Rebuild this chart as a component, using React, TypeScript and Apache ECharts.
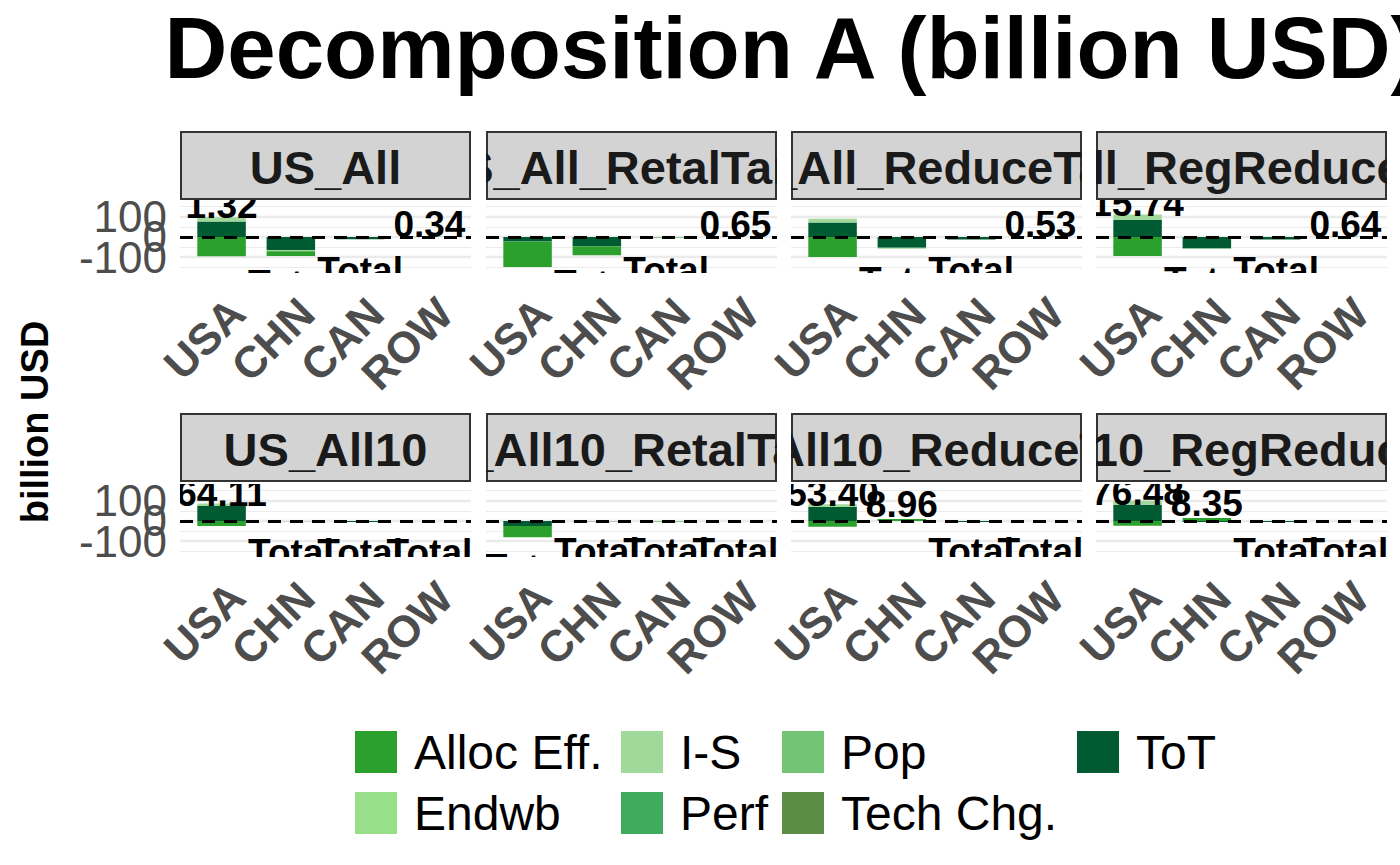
import React, { useEffect, useRef } from 'react';
import * as echarts from 'echarts';

const FONT = '"Liberation Sans", Arial, sans-serif';

const countries = ['USA', 'CHN', 'CAN', 'ROW'];
const facetNames = [
  'US_All',
  'US_All_RetalTariff',
  'US_All_ReduceTariff',
  'US_All_RegReduceTariff',
  'US_All10',
  'US_All10_RetalTariff',
  'US_All10_ReduceTariff',
  'US_All10_RegReduceTariff',
];

const seriesNames = ['Alloc Eff.', 'Endwb', 'I-S', 'Perf', 'Pop', 'Tech Chg.', 'ToT'];
const seriesColors = ['#2ca02c', '#98df8a', '#a1d99b', '#41ab5d', '#74c476', '#5b8c46', '#005a32'];

// values per facet, columns = USA, CHN, CAN, ROW
const allocEff = [
  [-95.7, -23, 0, 0],
  [-125, -44, -3, 0],
  [-99, 0, 0, 0],
  [-94, 0, 0, 0],
  [-25, 0, 0, 0],
  [-55, 0, -3, 0],
  [-28.6, 9, 0, 0],
  [-23.5, 14, 0, 0],
];
const endwb = [
  [0, 0, 0, 0], [0, 0, 0, 0], [0, 0, 0, 0], [0, 0, 0, 0],
  [0, 0, 0, 0], [0, 0, 0, 0], [0, 0, 0, 0], [0, 0, 0, 0],
];
const iS = [
  [21, -6, 0, 2],
  [0, 0, 0, 0],
  [18, -5, 0, 2],
  [26, -3, 0, 2],
  [13, -3, 0, 0],
  [0, 0, 0, 0],
  [14, 0, 0, 0],
  [20, 0, 0, 0],
];
const perf = [
  [0, 0, 0, 0], [0, 0, 0, 0], [0, 0, 0, 0], [0, 0, 0, 0],
  [0, 0, 0, 0], [0, 0, 0, 0], [0, 0, 0, 0], [0, 0, 0, 0],
];
const pop = [
  [0, 0, 0, 0], [0, 0, 0, 0], [0, 0, 0, 0], [0, 0, 0, 0],
  [0, 0, 0, 0], [0, 0, 0, 0], [0, 0, 0, 0], [0, 0, 0, 0],
];
const techChg = [
  [0, 0, 0, 0], [0, 0, 0, 0], [0, 0, 0, 0], [0, 0, 0, 0],
  [0, 0, 0, 0], [0, 0, 0, 0], [0, 0, 0, 0], [0, 0, 0, 0],
];
const tot = [
  [76, -65, -12, 0],
  [-23, -46, 0, 0],
  [71, -53, -13, 0],
  [84, -57, -13, 0],
  [73, 0, -6, 0],
  [-25, -1.5, 0, 0],
  [68, 0, -6, 0],
  [80, -5.65, -6, 0],
];

// text labels per facet (null = none) and their y positions
const labelTexts = [
  ['1.32', 'Total', 'Total', '0.34'],
  [null, 'Total', 'Total', '0.65'],
  [null, 'Total', 'Total', '0.53'],
  ['15.74', 'Total', 'Total', '0.64'],
  ['64.11', 'Total', 'Total', 'Total'],
  ['Total', 'Total', 'Total', 'Total'],
  ['53.40', '8.96', 'Total', 'Total'],
  ['76.48', '8.35', 'Total', 'Total'],
];
const labelYs = [
  [157, -232, -164, 59],
  [0, -232, -164, 59],
  [0, -214, -164, 59],
  [167, -214, -164, 59],
  [137, -158, -158, -158],
  [-232, -150, -150, -150],
  [133, 83, -150, -150],
  [142, 88, -150, -150],
];

const yTicks = [-100, 0, 100];
const minorBreaks = [-150, -50, 50, 150];

const comps = [allocEff, endwb, iS, perf, pop, techChg, tot];
const stackOrder = [6, 5, 4, 3, 2, 1, 0];

const colLeft = [180, 486, 791, 1096];
const panelTop = [200, 484];
const stripTop = [131, 413];
const PANEL_W = 291;
const PANEL_H = 73;
const UNIT = PANEL_W / 4.2;

const App: React.FC = () => {
  const chartRef = useRef<HTMLDivElement>(null);

  useEffect(() => {
    if (!chartRef.current) return;
    const chart = echarts.init(chartRef.current, undefined, { renderer: 'svg' });

    const grid: any[] = [];
    const xAxis: any[] = [];
    const yAxis: any[] = [];
    const series: any[] = [];
    const yRange = { min: -178, max: 182 };

    // full panels: x labels, grid lines, text labels
    facetNames.forEach((_, i) => {
      const row = Math.floor(i / 4);
      const col = i % 4;
      grid.push({ left: colLeft[col], top: panelTop[row], width: PANEL_W, height: PANEL_H, outerBoundsMode: 'none' });
      xAxis.push({
        type: 'value',
        gridIndex: i,
        min: -0.6,
        max: 3.6,
        axisLine: { show: false },
        axisTick: { show: false },
        splitLine: { show: false },
        axisLabel: {
          customValues: [0, 1, 2, 3],
          formatter: (v: number) => countries[Math.round(v)],
          rotate: 45,
          align: 'right',
          verticalAlign: 'top',
          margin: 17,
          fontSize: 44,
          fontWeight: 'bold',
          fontFamily: FONT,
          color: '#4d4d4d',
        },
      });
      yAxis.push({
        type: 'value',
        gridIndex: i,
        ...yRange,
        axisLine: { show: false },
        axisTick: { show: false },
        splitLine: { show: false },
        axisLabel: { show: false },
      });
    });

    // bar panels (category axis, inset to match the discrete expansion)
    facetNames.forEach((_, i) => {
      const row = Math.floor(i / 4);
      const col = i % 4;
      grid.push({
        left: colLeft[col] + UNIT * 0.1,
        top: panelTop[row],
        width: UNIT * 4,
        height: PANEL_H,
        outerBoundsMode: 'none',
      });
      xAxis.push({ type: 'category', gridIndex: 8 + i, data: countries, show: false });
      yAxis.push({ type: 'value', gridIndex: 8 + i, ...yRange, show: false });
    });

    // strips
    facetNames.forEach((_, i) => {
      const row = Math.floor(i / 4);
      const col = i % 4;
      grid.push({ left: colLeft[col], top: stripTop[row], width: PANEL_W, height: 69, outerBoundsMode: 'none' });
      xAxis.push({ type: 'value', gridIndex: 16 + i, min: 0, max: 1, show: false });
      yAxis.push({ type: 'value', gridIndex: 16 + i, min: 0, max: 1, show: false });
    });

    facetNames.forEach((name, i) => {
      const col = i % 4;

      // grid lines + y tick labels
      series.push({
        type: 'custom',
        xAxisIndex: i,
        yAxisIndex: i,
        silent: true,
        data: [[0, 0]],
        renderItem: () => ({ type: 'group', children: [] }),
        markLine: {
          z: 1,
          silent: true,
          symbol: 'none',
          data: [
            ...minorBreaks.map(v => ({
              yAxis: v,
              lineStyle: { color: '#ebebeb', width: 1.2, type: 'solid' },
              label: { show: false },
            })),
            ...yTicks.map(v => ({
              yAxis: v,
              lineStyle: { color: '#ebebeb', width: 2.4, type: 'solid' },
              label: {
                show: col === 0,
                position: 'start',
                distance: 13,
                formatter: String(v),
                fontSize: 44,
                fontFamily: FONT,
                color: '#4d4d4d',
              },
            })),
          ],
        },
      });

      stackOrder.forEach(k => {
        series.push({
          type: 'bar',
          name: seriesNames[k],
          xAxisIndex: 8 + i,
          yAxisIndex: 8 + i,
          stack: 'facet' + i,
          barWidth: '70%',
          itemStyle: { color: seriesColors[k] },
          data: comps[k][i],
        });
      });

      const labs = labelTexts[i]
        .map((t, c) => ({ t, c, y: labelYs[i][c] }))
        .filter(d => d.t !== null);
      series.push({
        type: 'custom',
        xAxisIndex: i,
        yAxisIndex: i,
        clip: true,
        z: 5,
        silent: true,
        data: labs.map(d => [d.c, d.y]),
        renderItem: (params: any, api: any) => {
          const pt = api.coord([api.value(0), api.value(1)]);
          return {
            type: 'text',
            x: pt[0],
            y: pt[1],
            style: {
              text: labs[params.dataIndex].t,
              font: `bold 37px ${FONT}`,
              fill: '#000',
              align: 'center',
              verticalAlign: 'middle',
            },
          };
        },
        markLine: {
          z: 3,
          silent: true,
          symbol: 'none',
          label: { show: false },
          data: [{ yAxis: 0, lineStyle: { color: '#000', width: 3.2, type: [13, 9] } }],
        },
      });

      series.push({
        type: 'custom',
        xAxisIndex: 16 + i,
        yAxisIndex: 16 + i,
        clip: true,
        silent: true,
        data: [[0.5, 0.5]],
        renderItem: (params: any) => {
          const cs = params.coordSys;
          return {
            type: 'group',
            children: [
              {
                type: 'rect',
                shape: { x: cs.x + 1, y: cs.y + 1, width: cs.width - 2, height: cs.height - 2 },
                style: { fill: '#d3d3d3', stroke: '#333333', lineWidth: 2 },
              },
              {
                type: 'text',
                x: cs.x + cs.width / 2,
                y: cs.y + cs.height / 2 + 2,
                style: {
                  text: name,
                  font: `bold 47px ${FONT}`,
                  fill: '#1a1a1a',
                  align: 'center',
                  verticalAlign: 'middle',
                },
              },
            ],
          };
        },
      });
    });

    const legendBase = {
      orient: 'vertical',
      top: 728,
      itemWidth: 42,
      itemHeight: 42,
      itemGap: 13,
      icon: 'rect',
      padding: 0,
      selectedMode: false,
      textStyle: { fontSize: 48, color: '#000', fontFamily: FONT, padding: [0, 0, 0, 12] },
    };

    const option = {
      animation: false,
      textStyle: { fontFamily: FONT },
      grid,
      xAxis,
      yAxis,
      series,
      legend: [
        { ...legendBase, left: 355, data: ['Alloc Eff.', 'Endwb'] },
        { ...legendBase, left: 621, data: ['I-S', 'Perf'] },
        { ...legendBase, left: 782, data: ['Pop', 'Tech Chg.'] },
        { ...legendBase, left: 1077, data: ['ToT'] },
      ],
      graphic: [
        {
          type: 'text',
          x: 792,
          y: 47,
          style: {
            text: 'Decomposition A (billion USD)',
            font: `bold 87px ${FONT}`,
            fill: '#000',
            align: 'center',
            verticalAlign: 'middle',
          },
        },
        {
          type: 'text',
          x: 35,
          y: 422,
          rotation: Math.PI / 2,
          style: {
            text: 'billion USD',
            font: `bold 38px ${FONT}`,
            fill: '#000',
            align: 'center',
            verticalAlign: 'middle',
          },
        },
      ],
    };

    chart.setOption(option);

    return () => {
      chart.dispose();
    };
  }, []);

  return (
    <div
      ref={chartRef}
      style={{ position: 'absolute', left: 0, top: 0, width: '1400px', height: '865px', background: '#fff' }}
    />
  );
};

export default App;
